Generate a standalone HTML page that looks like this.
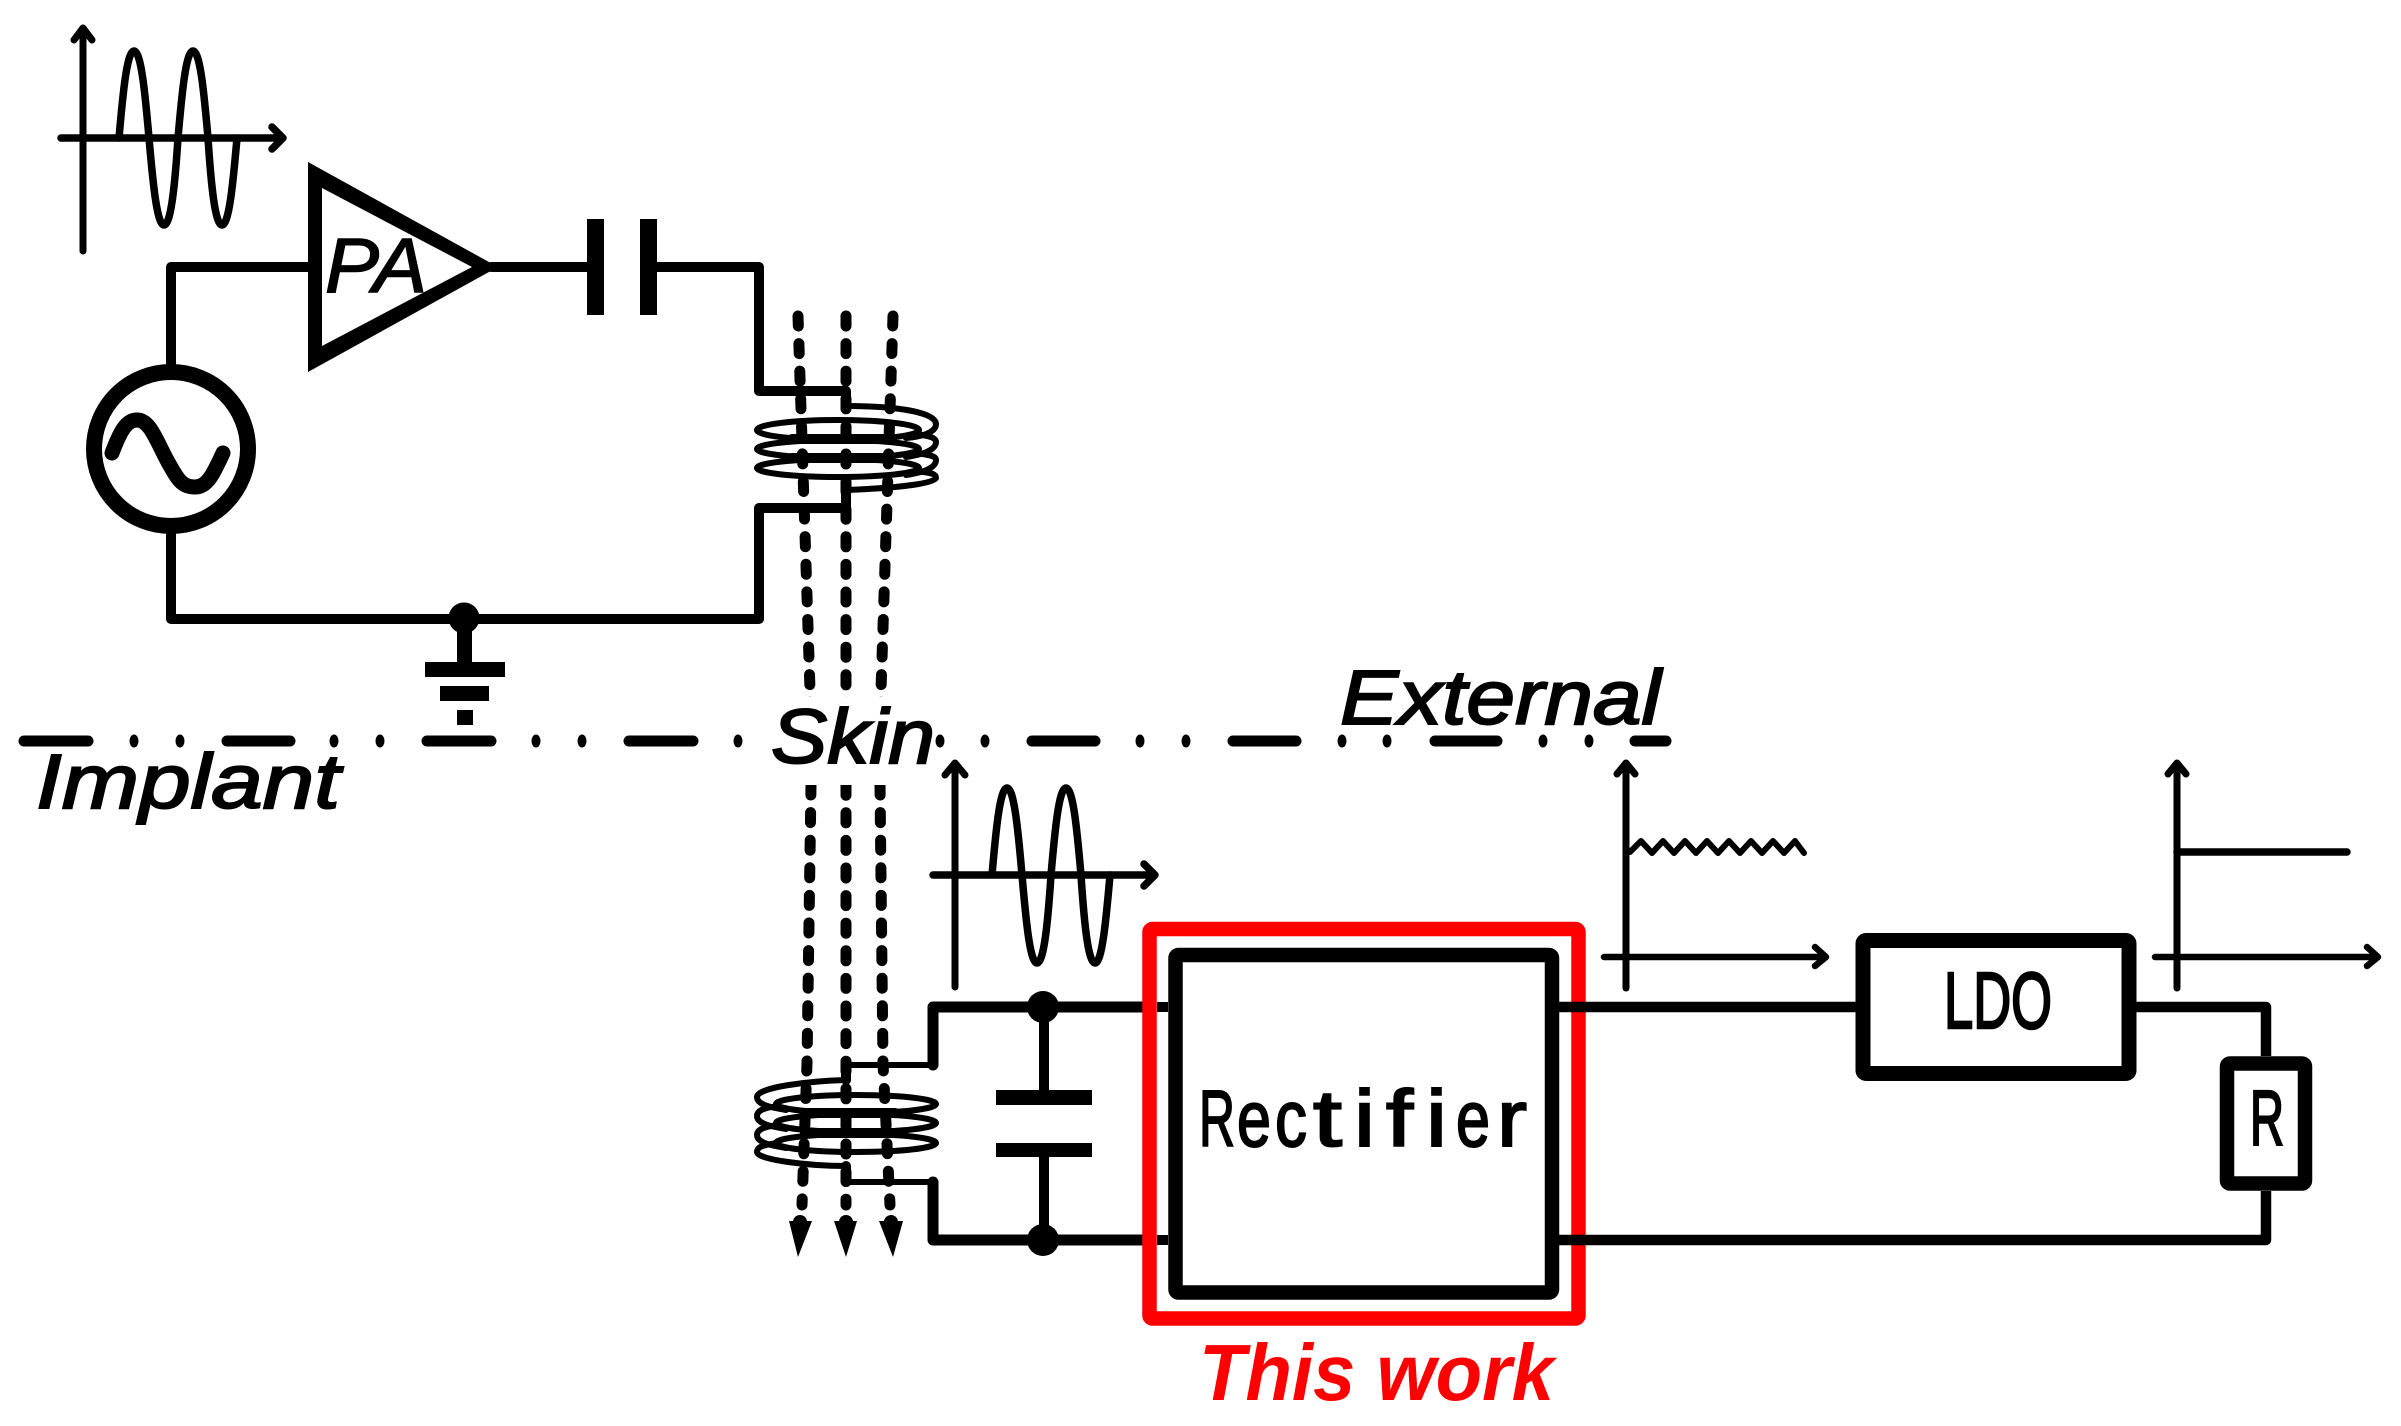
<!DOCTYPE html>
<html><head><meta charset="utf-8"><style>
html,body{margin:0;padding:0;background:#fff}
svg{display:block}
text{font-family:"Liberation Sans",sans-serif;fill:#000}
</style></head><body>
<svg width="2401" height="1426" viewBox="0 0 2401 1426" xmlns="http://www.w3.org/2000/svg">
<rect width="2401" height="1426" fill="#fff"/>

<!-- flux lines -->
<g fill="none" stroke="#000" stroke-width="11" stroke-linecap="round" stroke-dasharray="10 17.6">
<polyline points="798,316 810,690 811,785 807,1063 802,1205"/>
<polyline points="846,316 846,1205"/>
<polyline points="893,316 881,690 880,785 883,1063 890,1205"/>
</g>
<g fill="#000">
<polygon points="789,1221 812,1221 798,1257"/><polygon points="834,1221 857,1221 846,1257"/><polygon points="879,1221 903,1221 893,1257"/>
<circle cx="800" cy="1222" r="7"/><circle cx="846" cy="1222" r="7"/><circle cx="891" cy="1222" r="7"/>
</g>

<!-- dash-dot line -->
<g stroke="#000" stroke-width="11" stroke-linecap="round" fill="none">
<path d="M24 741H88M227 741H290M427 741H491M629 741H693M1032 741H1095M1233 741H1296M1435 741H1497M1635 741H1666"/>
</g>
<g fill="#000">
<ellipse cx="134" cy="741" rx="4.5" ry="6.5"/><ellipse cx="180" cy="741" rx="4.5" ry="6.5"/>
<ellipse cx="334" cy="741" rx="4.5" ry="6.5"/><ellipse cx="380" cy="741" rx="4.5" ry="6.5"/>
<ellipse cx="536" cy="741" rx="4.5" ry="6.5"/><ellipse cx="582" cy="741" rx="4.5" ry="6.5"/>
<ellipse cx="738" cy="741" rx="4.5" ry="6.5"/>
<ellipse cx="940" cy="741" rx="4.5" ry="6.5"/><ellipse cx="985" cy="741" rx="4.5" ry="6.5"/>
<ellipse cx="1140" cy="741" rx="4.5" ry="6.5"/><ellipse cx="1186" cy="741" rx="4.5" ry="6.5"/>
<ellipse cx="1342" cy="741" rx="4.5" ry="6.5"/><ellipse cx="1387" cy="741" rx="4.5" ry="6.5"/>
<ellipse cx="1543" cy="741" rx="4.5" ry="6.5"/><ellipse cx="1589" cy="741" rx="4.5" ry="6.5"/>
</g>
<rect x="772" y="697" width="162" height="88" fill="#fff"/>

<!-- upper circuit -->
<g fill="none" stroke="#000" stroke-width="10" stroke-linejoin="round" stroke-linecap="round">
<polyline points="308,267 171,267 171,370"/>
<polyline points="171,530 171,619 759,619 759,508 846,508 846,490"/>
<line x1="491" y1="267" x2="590" y2="267"/>
<polyline points="655,267 759,267 759,391 846,391 846,406"/>
</g>
<path fill-rule="evenodd" fill="#000" d="M308 162L498 267L308 372ZM322 188V346L472 267Z"/>
<rect x="587" y="219" width="17" height="96" fill="#000"/>
<rect x="640" y="219" width="17" height="96" fill="#000"/>
<circle cx="171" cy="449" r="77" fill="#fff" stroke="#000" stroke-width="16"/>
<path d="M112 453C120 432 126 420 137 420C150 420 156 440 168 462C178 480 182 487 195 487C208 487 214 472 223 453" fill="none" stroke="#000" stroke-width="15" stroke-linecap="round"/>
<circle cx="464" cy="618" r="15.5" fill="#000"/>
<rect x="457" y="618" width="15" height="46" fill="#000"/>
<rect x="425" y="662" width="80" height="15" fill="#000"/>
<rect x="440" y="686" width="49" height="15" fill="#000"/>
<rect x="457" y="710" width="16" height="15" fill="#000"/>

<!-- coil 1 -->
<g fill="none" stroke="#000" stroke-width="6" stroke-linecap="round">
<ellipse cx="838" cy="430" rx="81" ry="10"/>
<ellipse cx="838" cy="449" rx="81" ry="9"/>
<ellipse cx="838" cy="468" rx="81" ry="9"/>
<path d="M846 406C885 406 935 410 936 424C936 433 920 437 906 438"/>
<path d="M916 434C930 436 936 438 936 442C936 451 920 455 906 457"/>
<path d="M916 453C930 455 936 456 936 460C936 469 920 473 906 475"/>
<path d="M916 471C930 473 936 473 936 478C936 483 900 488 846 490"/>
<path d="M792 439H885M792 458H885" stroke-width="10"/>
</g>
<!-- coil 2 -->
<g fill="none" stroke="#000" stroke-width="6" stroke-linecap="round">
<ellipse cx="856" cy="1104" rx="80" ry="9"/>
<ellipse cx="856" cy="1123" rx="80" ry="9"/>
<ellipse cx="856" cy="1143" rx="80" ry="9"/>
<path d="M846 1080C810 1081 757 1087 757 1097C757 1104 768 1107 786 1110"/>
<path d="M778 1106C762 1108 757 1111 757 1116C757 1123 768 1126 786 1129"/>
<path d="M778 1125C762 1127 757 1130 757 1135C757 1142 768 1145 786 1148"/>
<path d="M778 1143C762 1145 757 1147 757 1152C757 1160 810 1166 846 1166"/>
<path d="M805 1113H895M805 1133H895" stroke-width="10"/>
</g>
<g fill="none" stroke="#000" stroke-linejoin="round" stroke-linecap="round">
<polyline points="846,1065 846,1080" stroke-width="10"/>
<polyline points="846,1166 846,1182" stroke-width="10"/>
<polyline points="846,1065 933,1065" stroke-width="6"/>
<polyline points="846,1182 933,1182" stroke-width="6"/>
<polyline points="933,1065 933,1007 1150,1007" stroke-width="11"/>
<polyline points="933,1182 933,1240 1150,1240" stroke-width="11"/>
</g>
<!-- capacitor 2 -->
<rect x="1039" y="1007" width="10" height="233" fill="#000"/>
<rect x="996" y="1090" width="96" height="15" fill="#000"/>
<rect x="996" y="1105" width="96" height="38" fill="#fff"/>
<rect x="996" y="1143" width="96" height="14" fill="#000"/>
<circle cx="1043" cy="1007" r="16" fill="#000"/>
<circle cx="1043" cy="1240" r="16" fill="#000"/>

<!-- red box -->
<rect x="1149.5" y="929" width="429" height="389.5" rx="3" fill="#fff" stroke="#f00" stroke-width="14.5"/>
<path d="M1157 1007H1168M1157 1240H1168" stroke="#000" stroke-width="10"/>
<!-- right side wires -->
<g fill="none" stroke="#000" stroke-linejoin="round">
<line x1="1559" y1="1007" x2="1856" y2="1007" stroke-width="10.5"/>
<polyline points="2136,1007 2266,1007 2266,1056" stroke-width="10.5"/>
<polyline points="2266,1191 2266,1240 1559,1240" stroke-width="10.5"/>
</g>
<rect x="1175.5" y="955" width="376.5" height="337.5" rx="3" fill="#fff" stroke="#000" stroke-width="14.5"/>
<rect x="1863" y="940.5" width="266" height="133" rx="3" fill="#fff" stroke="#000" stroke-width="15"/>
<rect x="2227" y="1063.5" width="78" height="120" rx="3" fill="#fff" stroke="#000" stroke-width="14.5"/>

<!-- plots -->
<g fill="none" stroke="#000" stroke-width="7" stroke-linecap="round" stroke-linejoin="round">
<path d="M83 251V30M74 40L83 28L92 40"/>
<path d="M61 138H281M272 127L283 138L272 149" stroke-width="7.5"/>
<path d="M119 138C123 92 127 51 134 51C141 51 145 92 149 138C153 184 157 225 164 225C171 225 175 184 178 138C182 92 186 51 193 51C200 51 204 92 208 138C211 184 215 225 222 225C229 225 233 184 237 138" stroke-width="7.5"/>
<path d="M955 987V765M945 775L955 763L965 775"/>
<path d="M933 875H1153M1144 864L1155 875L1144 886" stroke-width="7.5"/>
<path d="M992 875C996 829 1000 788 1007 788C1014 788 1018 829 1022 875C1026 921 1030 963 1037 963C1044 963 1048 921 1051 875C1055 829 1059 788 1066 788C1073 788 1077 829 1081 875C1084 921 1088 963 1095 963C1102 963 1106 921 1110 875" stroke-width="7.5"/>
<path d="M1626 988V765M1617 774L1626 763L1635 774"/>
<path d="M1604 957H1824M1815 947L1826 957L1815 966" stroke-width="6.5"/>
<path d="M1630 852L1641 841L1652 853L1663 841L1674 853L1685 841L1696 853L1707 841L1718 853L1729 841L1740 853L1751 841L1762 853L1773 841L1784 853L1795 841L1804 853" stroke-width="6"/>
<path d="M2177 988V765M2168 774L2177 763L2186 774"/>
<path d="M2155 957H2376M2367 947L2378 957L2367 966" stroke-width="6.5"/>
<path d="M2177 852H2347" stroke-width="7.5"/>
</g>

<!-- labels -->
<g font-style="italic" stroke="#000" stroke-width="2" font-size="77">
<text x="325" y="292" textLength="102" lengthAdjust="spacingAndGlyphs" stroke-width="1.5">PA</text>
<text x="36" y="808" textLength="304" lengthAdjust="spacingAndGlyphs">Implant</text>
<text x="771" y="763" textLength="164" lengthAdjust="spacingAndGlyphs">Skin</text>
<text x="1340" y="724" textLength="321" lengthAdjust="spacingAndGlyphs">External</text>
</g>
<text x="1199" y="1400" font-size="80" font-weight="bold" font-style="italic" textLength="355" lengthAdjust="spacingAndGlyphs" style="fill:#f00">This work</text>
<g font-size="80" stroke="#000" stroke-width="2">
<text x="1199" y="1146" textLength="36" lengthAdjust="spacingAndGlyphs">R</text>
<text x="1237" y="1146" textLength="34" lengthAdjust="spacingAndGlyphs">e</text>
<text x="1275" y="1146" textLength="32" lengthAdjust="spacingAndGlyphs">c</text>
<text x="1313" y="1146" textLength="29" lengthAdjust="spacingAndGlyphs">t</text>
<text x="1354" y="1146" textLength="21" lengthAdjust="spacingAndGlyphs">i</text>
<text x="1386" y="1146" textLength="27" lengthAdjust="spacingAndGlyphs">f</text>
<text x="1426" y="1146" textLength="21" lengthAdjust="spacingAndGlyphs">i</text>
<text x="1456" y="1146" textLength="34" lengthAdjust="spacingAndGlyphs">e</text>
<text x="1497" y="1146" textLength="30" lengthAdjust="spacingAndGlyphs">r</text>
</g>
<text x="1944" y="1028" font-size="80" stroke="#000" stroke-width="2.5" textLength="108" lengthAdjust="spacingAndGlyphs">LDO</text>
<text x="2250" y="1145" font-size="78" stroke="#000" stroke-width="2.5" textLength="34" lengthAdjust="spacingAndGlyphs">R</text>
</svg>
</body></html>
